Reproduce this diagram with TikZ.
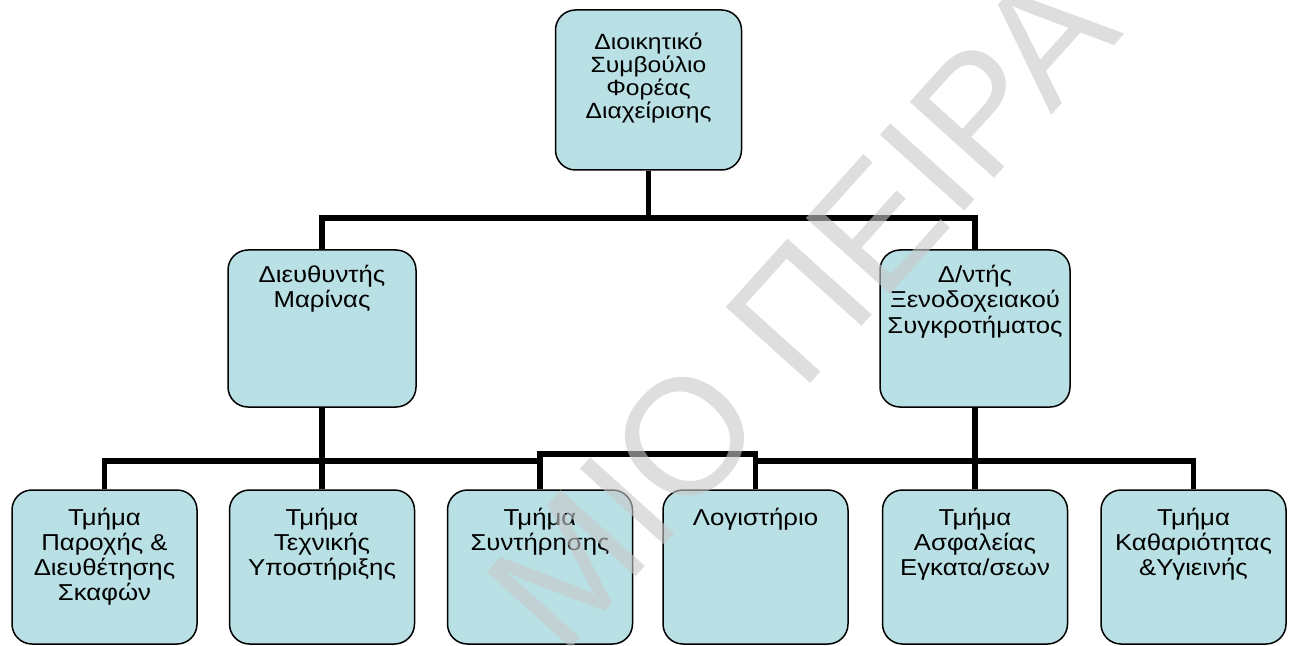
\documentclass[tikz,border=0pt]{standalone}
\usepackage{fontspec}
\setmainfont{Liberation Sans}[FakeStretch=1.12]
\newfontfamily\stampfont{Liberation Sans}

\definecolor{unitfill}{RGB}{185,224,228}
\definecolor{stampgray}{RGB}{200,200,200}

\newcommand{\unitlines}[3]{\parbox[c][#1][t]{92pt}{\centering\rule{0pt}{#2}#3}}

\tikzset{
	unit/.style={draw, line width=0.75pt, rounded corners=10pt, fill=unitfill, inner sep=0pt, minimum width=93pt, font=\fontsize{11.5}{12.5}\selectfont},
	link/.style={line width=2.75pt},
	stamp/.style={rotate=48, anchor=base west, inner sep=0pt, text=stampgray, text opacity=0.6, font=\stampfont\fontsize{82.5}{82.5}\selectfont},
}

\begin{document}
\begin{tikzpicture}[x=0.5pt, y=-0.5pt]
			\useasboundingbox (0,0) rectangle (1293,646);

			\node[unit, font=\fontsize{11}{11.5}\selectfont] (board) at (648.5,90) {\unitlines{80pt}{20pt}{Διοικητικό\\Συμβούλιο\\Φορέας\\Διαχείρισης}};

			\node[unit, minimum width=94pt] (marina) at (322,328.5) {\unitlines{78.5pt}{16.5pt}{Διευθυντής\\Μαρίνας}};
			\node[unit, minimum width=95pt] (hotel) at (975,328.5) {\unitlines{78.5pt}{16.5pt}{Δ/ντής\\Ξενοδοχειακού\\Συγκροτήματος}};

			\node[unit, minimum width=92.5pt] (boats) at (104.5,567) {\unitlines{77pt}{17.5pt}{Τμήμα\\Παροχής \&\\Διευθέτησης\\Σκαφών}};
			\node[unit, minimum width=92.5pt] (tech) at (322,567) {\unitlines{77pt}{17.5pt}{Τμήμα\\Τεχνικής\\Υποστήριξης}};
			\node[unit, minimum width=92.5pt] (maint) at (540,567) {\unitlines{77pt}{17.5pt}{Τμήμα\\Συντήρησης}};
			\node[unit, minimum width=92.5pt] (acct) at (755.5,567) {\unitlines{77pt}{17.5pt}{Λογιστήριο}};
			\node[unit, minimum width=92.5pt] (safety) at (975,567) {\unitlines{77pt}{17.5pt}{Τμήμα\\Ασφαλείας\\Εγκατα/σεων}};
			\node[unit, minimum width=92.5pt] (clean) at (1193.5,567) {\unitlines{77pt}{17.5pt}{Τμήμα\\Καθαριότητας\\\&Υγιεινής}};

			\coordinate (topbar) at (0,218);
			\coordinate (lowbar) at (0,461);
			\coordinate (stepbar) at (0,454);

			\draw[link] (board.south) -- (board.south |- topbar);
			\draw[link] (marina.north) |- (hotel.north |- topbar) -- (hotel.north);
			\draw[link] (marina.south) -- (tech.north);
			\draw[link] (boats.north) |- (maint.north |- lowbar);
			\draw[link] (maint.north) |- (acct.north |- stepbar) -- (acct.north);
			\draw[link] (acct.north |- lowbar) -| (clean.north);
			\draw[link] (hotel.south) -- (safety.north);

			\begin{scope}
				\clip (0,0) rectangle (1293,646);
				\node[stamp] (mark) at (562,659) {ΜΙΟ ΠΕΙΡΑ};
			\end{scope}
\end{tikzpicture}
\end{document}
